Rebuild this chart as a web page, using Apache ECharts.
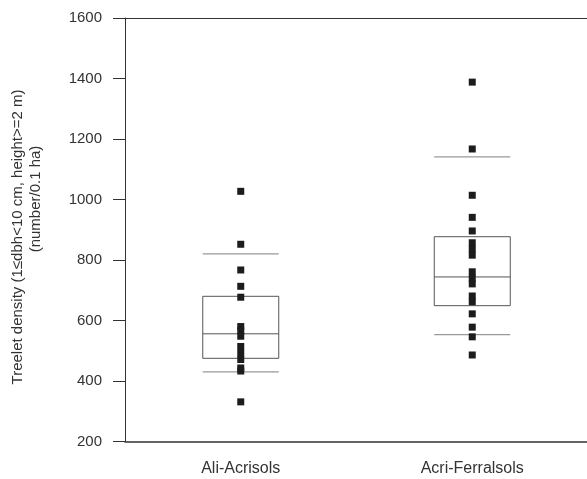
<!DOCTYPE html>
<html>
<head>
<meta charset="utf-8">
<script src="https://cdn.jsdelivr.net/npm/echarts@6/dist/echarts.min.js"></script>
<style>html,body{margin:0;padding:0;background:#fff;}#c{width:587px;height:479px;}</style>
</head>
<body>
<div id="c"></div>
<script>
var categories = ['Ali-Acrisols', 'Acri-Ferralsols'];
var aliPoints = [1027, 852, 767, 713, 677, 580, 566, 548, 514, 492, 471, 443, 433, 331];
var acriPoints = [1388, 1167, 1014, 941, 896, 857, 836, 816, 761, 740, 721, 681, 662, 622, 578, 546, 486];
// [lower whisker, Q1, median, Q3, upper whisker]
var aliStats = [430, 475, 556, 680, 820];
var acriStats = [553, 649, 744, 877, 1141];
var yTicks = [200, 400, 600, 800, 1000, 1200, 1400, 1600];
var yTitle1 = 'Treelet density (1\u2264dbh<10 cm, height>=2 m)';
var yTitle2 = '(number/0.1 ha)';

var pointsByCat = [aliPoints, acriPoints];
var statsByCat = [aliStats, acriStats];
var scatterData = [];
pointsByCat.forEach(function (arr, i) { arr.forEach(function (v) { scatterData.push([i, v]); }); });
var boxData = statsByCat.map(function (s, i) { return [i].concat(s); });

var chart = echarts.init(document.getElementById('c'), null, {renderer: 'canvas'});
var font = '"Liberation Sans", Arial, Helvetica, sans-serif';
chart.setOption({
  animation: false,
  backgroundColor: '#fff',
  grid: {left: 125, top: 18, width: 463, height: 423.5, show: false, outerBoundsMode: 'none', containLabel: false},
  xAxis: [{
    type: 'category', data: categories, boundaryGap: true,
    axisLine: {lineStyle: {color: '#333', width: 1.5}},
    axisTick: {show: false},
    axisLabel: {color: '#333', fontSize: 16, fontFamily: font, margin: 19}
  }, {
    type: 'category', data: categories, position: 'top', boundaryGap: true,
    axisLine: {show: true, lineStyle: {color: '#333', width: 1}},
    axisTick: {show: false},
    axisLabel: {show: false}
  }],
  yAxis: {
    type: 'value', min: yTicks[0], max: yTicks[yTicks.length - 1], interval: 200,
    splitLine: {show: false},
    axisLine: {show: true, lineStyle: {color: '#333', width: 1}},
    axisTick: {show: true, length: 12, lineStyle: {color: '#333'}},
    axisLabel: {color: '#333', fontSize: 15, fontFamily: font, margin: 23, formatter: function (v) { return String(v); }}
  },
  graphic: [
    {type: 'text', x: 18, y: 237, rotation: Math.PI / 2, style: {text: yTitle1, fill: '#333', font: '15px ' + font, align: 'center', verticalAlign: 'middle'}},
    {type: 'text', x: 36, y: 199, rotation: Math.PI / 2, style: {text: yTitle2, fill: '#333', font: '15px ' + font, align: 'center', verticalAlign: 'middle'}}
  ],
  series: [
    {
      type: 'custom',
      data: boxData,
      z: 2,
      renderItem: function (params, api) {
        var c = api.value(0);
        var bw = 76;
        var pLo = api.coord([c, api.value(1)]);
        var pQ1 = api.coord([c, api.value(2)]);
        var pMed = api.coord([c, api.value(3)]);
        var pQ3 = api.coord([c, api.value(4)]);
        var pHi = api.coord([c, api.value(5)]);
        var x0 = pQ1[0] - bw / 2, x1 = pQ1[0] + bw / 2;
        var boxStyle = {stroke: '#555', lineWidth: 1, fill: null};
        var whiskStyle = {stroke: '#999', lineWidth: 1.2};
        return {
          type: 'group',
          children: [
            {type: 'rect', shape: {x: x0, y: pQ3[1], width: bw, height: pQ1[1] - pQ3[1]}, style: boxStyle},
            {type: 'line', shape: {x1: x0, y1: pMed[1], x2: x1, y2: pMed[1]}, style: {stroke: '#555', lineWidth: 1}},
            {type: 'line', shape: {x1: x0, y1: pLo[1], x2: x1, y2: pLo[1]}, style: whiskStyle},
            {type: 'line', shape: {x1: x0, y1: pHi[1], x2: x1, y2: pHi[1]}, style: whiskStyle}
          ]
        };
      }
    },
    {
      type: 'scatter',
      data: scatterData,
      symbol: 'rect',
      symbolSize: 7,
      z: 3,
      itemStyle: {color: '#1c1c1c', opacity: 1}
    }
  ]
});
</script>
</body>
</html>
